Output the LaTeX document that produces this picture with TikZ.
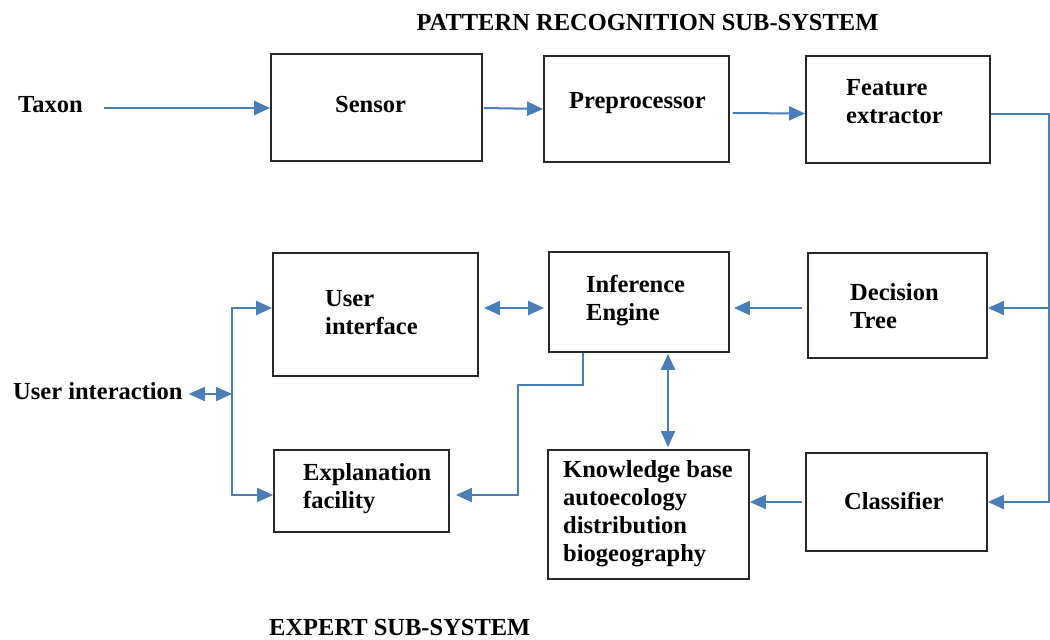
\documentclass[tikz,border=0pt]{standalone}
\usepackage{fontspec}
\setmainfont{Liberation Serif}
\usetikzlibrary{arrows.meta}
\definecolor{lineblue}{RGB}{74,126,187}
\definecolor{boxgray}{RGB}{40,40,40}
\newcommand\mkbox[5]{\node[box,minimum width={#4-#2},minimum height={#5-#3}] (#1) at ({(#2+#4)/2},{(#3+#5)/2}) {};}
\tikzset{
  box/.style={draw=boxgray,line width=1.8pt,rectangle,inner sep=0pt},
  lbl/.style={font=\fontsize{24.5}{28}\selectfont\bfseries,inner sep=0pt,align=left,anchor=west},
  conn/.style={draw=lineblue,line width=2pt},
  arr/.style={conn,-{Triangle[length=16pt,width=14pt]}},
  dbl/.style={conn,{Triangle[length=16pt,width=14pt]}-{Triangle[length=16pt,width=14pt]}}
}
\begin{document}
\begin{tikzpicture}[x=1pt,y=-1pt]
\useasboundingbox[fill=white] (0,0) rectangle (1050,640);
% boxes
\mkbox{sensor}{271}{54}{482}{161}
\mkbox{prep}{544}{56}{729}{162}
\mkbox{feat}{806}{56}{990}{163}
\mkbox{ui}{273}{253}{478}{376}
\mkbox{ie}{549}{252}{729}{352}
\mkbox{dt}{808}{253}{987}{358}
\mkbox{expl}{274}{450}{449}{532}
\mkbox{kb}{548}{450}{749}{579}
\mkbox{cls}{806}{453}{987}{551}
% texts
\node[lbl,anchor=center] (title) at (647.5,23) {PATTERN RECOGNITION SUB-SYSTEM};
\node[lbl] (expert) at (269,628) {EXPERT SUB-SYSTEM};
\node[lbl] (taxon) at (18,105) {Taxon};
\node[lbl] (uint) at (13,391) {User interaction};
\node[lbl] (tsensor) at (335,105) {Sensor};
\node[lbl] (tprep) at (569,103) {Preprocessor};
\node[lbl] (tfeat) at (846,102) {Feature\\extractor};
\node[lbl] (tdt) at (850,306.5) {Decision\\Tree};
\node[lbl] (tie) at (586,300.5) {Inference\\Engine};
\node[lbl] (tui) at (325,312.5) {User\\interface};
\node[lbl] (texpl) at (303,488.5) {Explanation\\facility};
\node[lbl] (tkb) at (563,514) {Knowledge base\\autoecology\\distribution\\biogeography};
\node[lbl] (tcls) at (844,501) {Classifier};
% helper coordinates
\coordinate (rx) at (1049,114);
\coordinate (r108) at (0,108);
\coordinate (r308) at (0,308);
\coordinate (r495) at (0,495);
\coordinate (r502) at (0,502);
\coordinate (vx) at (232,394);
\coordinate (k1) at (518,385);
% connectors
\draw[arr] ([xshift=21pt]taxon.east |- r108) -- (sensor.west |- r108);
\draw[arr] ([xshift=1pt]sensor.east |- r108) -- (prep.west);
\draw[arr] ([shift={(3pt,-4pt)}]prep.east) -- ([yshift=-4pt]feat.west);
\draw[arr] (feat.east |- rx) -- (rx) |- (cls.east |- r502);
\draw[arr] (rx |- r308) -- (dt.east |- r308);
\draw[arr] ([xshift=-5pt]dt.west |- r308) -- ([xshift=4pt]ie.east |- r308);
\draw[dbl] ([xshift=5pt]ui.east |- r308) -- ([xshift=-4pt]ie.west |- r308);
\draw[dbl] ([xshift=29pt,yshift=-1pt]ie.south) -- ([xshift=19.5pt,yshift=2pt]kb.north);
\draw[arr] ([xshift=-56pt]ie.south) |- (k1) |- ([xshift=6pt]expl.east |- r495);
\draw[arr] ([xshift=-3pt]cls.west |- r502) -- (kb.east |- r502);
\draw[dbl] ([xshift=6pt]uint.east |- vx) -- (vx);
\draw[arr] (vx) |- (ui.west |- r308);
\draw[arr] (vx) |- (expl.west |- r495);
\end{tikzpicture}
\end{document}
